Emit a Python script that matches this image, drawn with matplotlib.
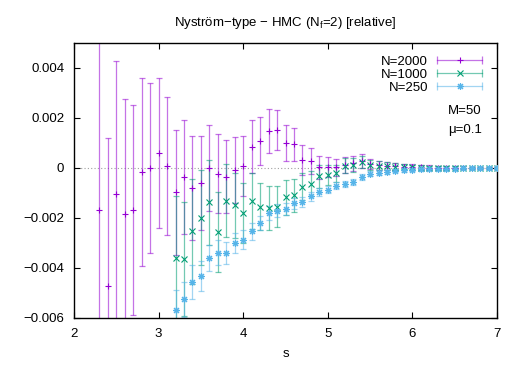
import numpy as np
import matplotlib
matplotlib.use("Agg")
import matplotlib.pyplot as plt
from matplotlib.lines import Line2D
from matplotlib.legend_handler import HandlerBase
from matplotlib.ticker import FuncFormatter

plt.rcParams['font.family'] = ['Liberation Sans', 'DejaVu Sans']
plt.rcParams['mathtext.fontset'] = 'custom'
plt.rcParams['mathtext.rm'] = 'Liberation Sans'

# ---------------- data ----------------
s_2000 = [round(2.3 + 0.1 * i, 1) for i in range(48)]
v_2000 = [-0.00169, -0.00472, -0.00104, -0.00185, -0.00169, -0.00015, 0.00001, 0.00059,
          0.00008, -0.00097, -0.00035, -0.00081, -0.00061, 0.00000, -0.00024, -0.00035,
          -0.00008, 0.00008, 0.00085, 0.00108, 0.00148, 0.00152, 0.00099, 0.00095,
          0.00032, 0.00028, 0.00002, 0.00005, 0.00002, 0.00012, 0.00019, 0.00028,
          0.00015, 0.00010, 0.00008, 0.00006, 0.00005, 0.00003, 0.00002, 0.00001,
          0.00001, 0.0, 0.0, 0.0, 0.0, 0.0, 0.0, 0.0]
e_2000 = [0.0075, 0.0059, 0.0053, 0.0046, 0.0042, 0.00375, 0.0034, 0.0030,
          0.00275, 0.0025, 0.00228, 0.00207, 0.00188, 0.00172, 0.00158, 0.00145,
          0.00132, 0.0012, 0.00107, 0.00097, 0.00089, 0.0008, 0.00072, 0.00066,
          0.0006, 0.00053, 0.00045, 0.0004, 0.00033, 0.00033, 0.0003, 0.00028,
          0.0002, 0.00018, 0.00016, 0.00014, 0.00012, 0.00011, 0.0001, 0.00009,
          0.00008, 0.00007, 0.00006, 0.00006, 0.00005, 0.00005, 0.00004, 0.00004]

s_1000 = [round(3.2 + 0.1 * i, 1) for i in range(39)]
v_1000 = [-0.00361, -0.00364, -0.00253, -0.00199, -0.00137, -0.00257, -0.00131, -0.00150,
          -0.00180, -0.00132, -0.00155, -0.00160, -0.00155, -0.00117, -0.00110, -0.00075,
          -0.00063, -0.00034, -0.00030, -0.00022, 0.00008, 0.00012, 0.00025, 0.00012,
          0.00008, 0.00006, 0.00004, 0.00003, 0.00002, 0.00001, 0.0, 0.0,
          0.0, 0.0, 0.0, 0.0, 0.0, 0.0, 0.0]
e_1000 = [0.0025, 0.00227, 0.0021, 0.0019, 0.0017, 0.0016, 0.00145, 0.0013,
          0.0012, 0.0011, 0.00095, 0.00088, 0.00082, 0.0007, 0.00065, 0.00055,
          0.0005, 0.00045, 0.0004, 0.00035, 0.0003, 0.00027, 0.00024, 0.0002,
          0.00018, 0.00016, 0.00014, 0.00012, 0.00011, 0.0001, 0.00009, 0.00008,
          0.00007, 0.00006, 0.00006, 0.00005, 0.00005, 0.00004, 0.00004]

s_250 = [round(3.2 + 0.1 * i, 1) for i in range(39)]
v_250 = [-0.00568, -0.00524, -0.00455, -0.00432, -0.00360, -0.00339, -0.00339, -0.00300,
         -0.00286, -0.00253, -0.00220, -0.00180, -0.00171, -0.00163, -0.00141, -0.00137,
         -0.00113, -0.00098, -0.00087, -0.00072, -0.00064, -0.00055, -0.00036, -0.00024,
         -0.00019, -0.00015, -0.00011, -0.00009, -0.00007, -0.00006, -0.00005, -0.00004,
         -0.00003, -0.00003, -0.00002, -0.00002, -0.00001, -0.00001, -0.00001]
e_250 = [0.0008, 0.0007, 0.00067, 0.0006, 0.00053, 0.0005, 0.00045, 0.0004,
         0.00037, 0.00034, 0.0003, 0.00028, 0.00026, 0.00024, 0.00022, 0.0002,
         0.00018, 0.00016, 0.00015, 0.00014, 0.00013, 0.00012, 0.00011, 0.0001,
         0.00009, 0.00008, 0.00007, 0.00006, 0.00006, 0.00005, 0.00005, 0.00004,
         0.00004, 0.00003, 0.00003, 0.00003, 0.00002, 0.00002, 0.00002]

labels = ["N=2000", "N=1000", "N=250"]
colors = ["#9400d3", "#009e73", "#56b4e9"]
markers = ["+", "x", (8, 2, 0)]

xticks = [2, 3, 4, 5, 6, 7]
yticks = [-0.006, -0.004, -0.002, 0, 0.002, 0.004]

# ---------------- figure ----------------
fig = plt.figure(figsize=(5.25, 3.67), dpi=100)
ax = fig.add_axes([74 / 525, 1 - 318 / 367, 423 / 525, 275 / 367])

ax.axhline(0, color="#a0a0a0", ls=(0, (1, 2)), lw=0.8, zorder=0)

MS = 5.0
series = [(s_2000, v_2000, e_2000), (s_1000, v_1000, e_1000), (s_250, v_250, e_250)]
for (s, v, e), c, m in zip(series, colors, markers):
    ax.errorbar(s, v, yerr=e, fmt='none', ecolor=c, elinewidth=0.9,
                capsize=2.3, capthick=0.9, alpha=0.55, zorder=2)
    ax.plot(s, v, ls='none', marker=m, ms=MS, mew=0.8, color=c, zorder=3)


class HandlerGnu(HandlerBase):
    def __init__(self, color, marker):
        super().__init__()
        self.c = color
        self.m = marker

    def create_artists(self, legend, orig_handle, xdescent, ydescent, width, height,
                       fontsize, trans):
        y = height / 2 - ydescent
        x0 = -xdescent
        x1 = x0 + width
        line = Line2D([x0, x1], [y, y], color=self.c, lw=0.9, alpha=0.55)
        caps = Line2D([x0, x1], [y, y], ls='none', marker='|', ms=6, mew=0.9,
                      color=self.c, alpha=0.55)
        mk = Line2D([(x0 + x1) / 2], [y], ls='none', marker=self.m, ms=MS, mew=0.8,
                    color=self.c)
        for a in (line, caps, mk):
            a.set_transform(trans)
        return [line, caps, mk]


handles = [Line2D([], [], color=c) for c in colors]
hmap = {h: HandlerGnu(c, m) for h, c, m in zip(handles, colors, markers)}
ax.legend(handles, labels, handler_map=hmap, loc='upper right',
          bbox_to_anchor=(0.9645, 0.954), frameon=False, markerfirst=False,
          fontsize=9.5, handlelength=3.4, handletextpad=0.7, labelspacing=0.05,
          borderpad=0, borderaxespad=0)

ax.text(0.884, 0.753, "M=50", transform=ax.transAxes, fontsize=9.5, va='center', ha='left')
ax.text(0.884, 0.684, "μ=0.1", transform=ax.transAxes, fontsize=9.5, va='center', ha='left')

ax.set_xlim(2, 7)
ax.set_ylim(-0.006, 0.005)
ax.set_xticks(xticks)
ax.set_yticks(yticks)
ax.yaxis.set_major_formatter(FuncFormatter(lambda v, p: f"{v:g}".replace("-", "\u2212") if abs(v) > 1e-12 else "0"))
ax.tick_params(direction='in', top=True, right=True, length=4.5, width=0.8,
               labelsize=9.5, pad=7)
for sp in ax.spines.values():
    sp.set_linewidth(1.0)

ax.set_xlabel("s", fontsize=9.5, labelpad=6)
ax.set_title("Nyström\u2212type \u2212 HMC (N$_{\\mathregular{f}}$=2) [relative]",
             fontsize=9.5, pad=12)

fig.savefig("out.png", dpi=100)
